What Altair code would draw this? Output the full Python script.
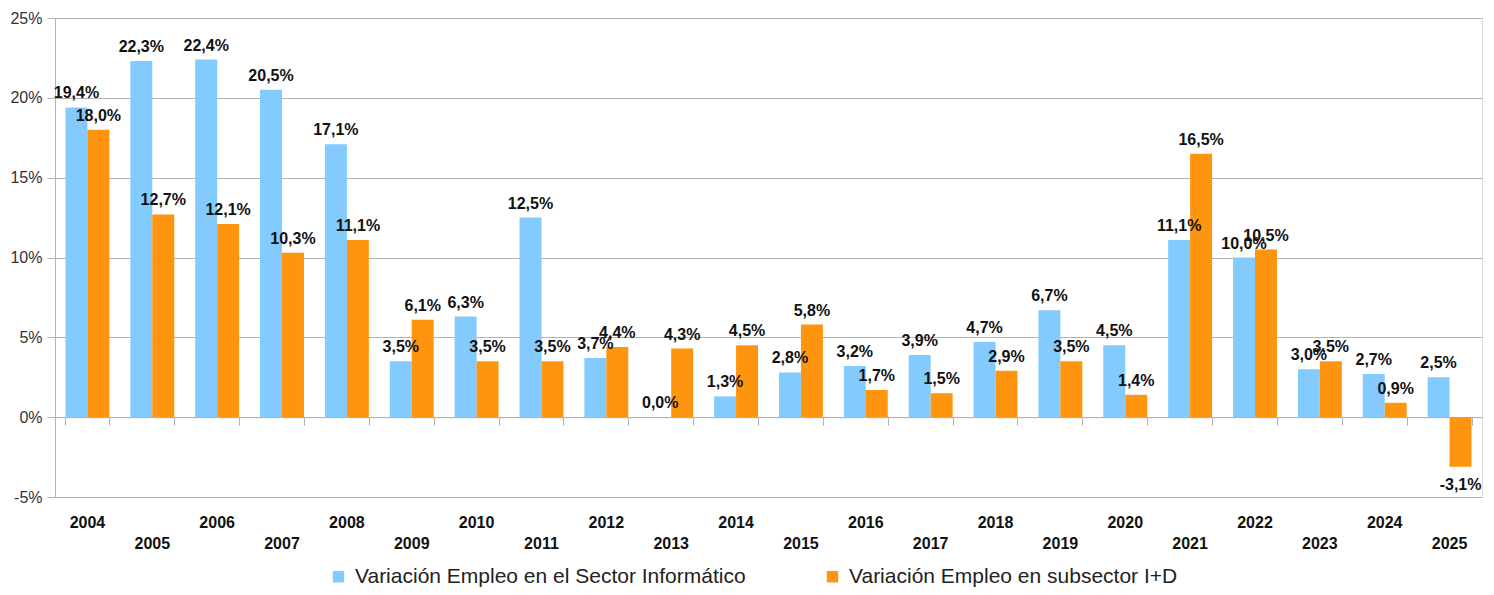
import altair as alt
import pandas as pd

years = [str(y) for y in range(2004, 2026)]
informatico = [19.4, 22.3, 22.4, 20.5, 17.1, 3.5, 6.3, 12.5, 3.7, 0.0, 1.3,
               2.8, 3.2, 3.9, 4.7, 6.7, 4.5, 11.1, 10.0, 3.0, 2.7, 2.5]
id_values = [18.0, 12.7, 12.1, 10.3, 11.1, 6.1, 3.5, 3.5, 4.4, 4.3, 4.5,
             5.8, 1.7, 1.5, 2.9, 3.5, 1.4, 16.5, 10.5, 3.5, 0.9, -3.1]
series_names = ["Variación Empleo en el Sector Informático",
                "Variación Empleo en subsector I+D"]
colors = ["#83caff", "#ff950e"]

rows = []
for i, y in enumerate(years):
    rows.append({"year": y, "series": series_names[0], "value": informatico[i]})
    rows.append({"year": y, "series": series_names[1], "value": id_values[i]})
df = pd.DataFrame(rows)

FONT = "Liberation Sans"
W, H = 1427, 479

x_scale = alt.Scale(paddingInner=0.323, paddingOuter=0.1615)
y_scale = alt.Scale(domain=[-5, 25], nice=False)

base = alt.Chart(df).transform_calculate(
    label="replace(replace(format(datum.value, '.1f'), '.', ','), '\u2212', '-') + '%'"
)

x_main = alt.X(
    "year:N", scale=x_scale, sort=years, title=None,
    axis=alt.Axis(
        domain=False, ticks=False, labelAngle=0,
        labelExpr="toNumber(datum.value) % 2 == 1 ? ['', datum.value] : datum.value",
        labelFont=FONT, labelFontSize=16, labelFontWeight="bold",
        labelColor="#111111", labelPadding=17, labelLineHeight=21,
        labelBaseline="top",
    ),
)

bars = base.mark_bar().encode(
    x=x_main,
    xOffset=alt.XOffset("series:N", sort=series_names),
    y=alt.Y(
        "value:Q", scale=y_scale, title=None,
        axis=alt.Axis(
            values=[-5, 0, 5, 10, 15, 20, 25],
            labelExpr="datum.value + '%'",
            labelFont=FONT, labelFontSize=16, labelColor="#333333",
            tickSize=8, tickColor="#b3b3b3", labelPadding=5,
            grid=True, gridColor="#b3b3b3", gridWidth=1,
            domain=True, domainColor="#b3b3b3",
        ),
    ),
    color=alt.Color(
        "series:N",
        scale=alt.Scale(domain=series_names, range=colors),
        legend=alt.Legend(
            title=None, orient="none", direction="horizontal",
            legendX=273, legendY=548,
            symbolType="square", symbolSize=130, symbolStrokeWidth=0,
            labelFont=FONT, labelFontSize=21, labelColor="#222222",
            labelLimit=1000, columnPadding=76, symbolOffset=0, labelOffset=6,
        ),
    ),
)

text_pos = base.transform_filter("datum.value >= 0").mark_text(
    font=FONT, fontSize=16, fontWeight="bold", color="#111111",
    baseline="alphabetic", dy=-9,
).encode(
    x=alt.X("year:N", sort=years, axis=None),
    xOffset=alt.XOffset("series:N", sort=series_names),
    y=alt.Y("value:Q"),
    text="label:N",
)

text_neg = base.transform_filter("datum.value < 0").mark_text(
    font=FONT, fontSize=16, fontWeight="bold", color="#111111",
    baseline="top", dy=10,
).encode(
    x=alt.X("year:N", sort=years, axis=None),
    xOffset=alt.XOffset("series:N", sort=series_names),
    y=alt.Y("value:Q"),
    text="label:N",
)

zero_axis = base.mark_text(text="", opacity=0).encode(
    x=alt.X(
        "year:N", sort=years, title=None,
        axis=alt.Axis(
            orient="bottom", offset=-(H * 5 / 30), labels=False,
            domain=True, domainColor="#b3b3b3", ticks=True,
            tickColor="#b3b3b3", tickSize=8, tickBand="extent",
        ),
    ),
    y=alt.Y("value:Q"),
)

chart = alt.layer(bars, text_pos, text_neg, zero_axis).resolve_axis(
    x="independent"
).properties(
    width=W, height=H,
    autosize=alt.AutoSizeParams(type="none"),
    padding={"left": 47, "top": 10, "right": 4, "bottom": 90},
).configure_view(
    stroke="#b3b3b3", strokeWidth=1,
).configure(background="white")

chart.save("out.html", embed_options={"renderer": "svg", "actions": False})
